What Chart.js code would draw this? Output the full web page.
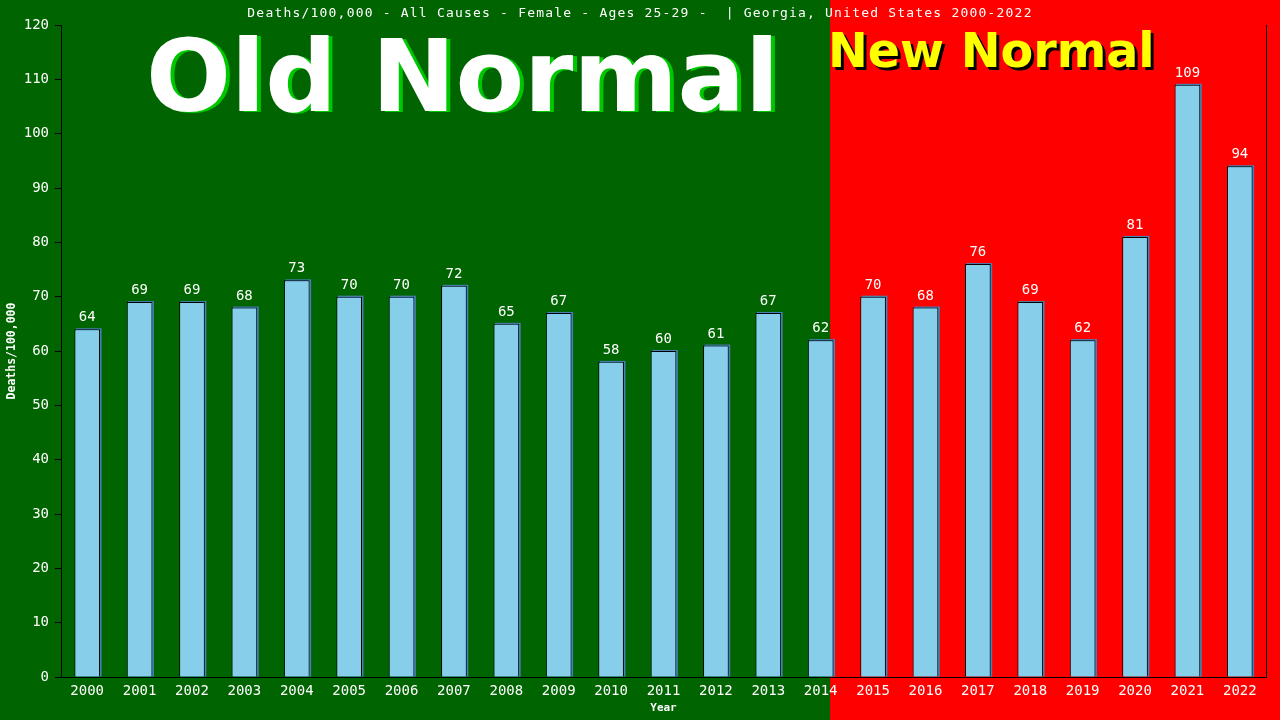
<!DOCTYPE html>
<html>
<head>
<meta charset="utf-8">
<script src="https://cdn.jsdelivr.net/npm/chart.js@4.4.0/dist/chart.umd.min.js"></script>
<style>
  html, body { margin: 0; padding: 0; background: #006400; }
  #wrap { width: 1280px; height: 720px; }
</style>
</head>
<body>
<div id="wrap"><canvas id="c" width="1280" height="720"></canvas></div>
<script>
const years = ['2000','2001','2002','2003','2004','2005','2006','2007','2008','2009','2010','2011','2012','2013','2014','2015','2016','2017','2018','2019','2020','2021','2022'];
const deaths = [64,69,69,68,73,70,70,72,65,67,58,60,61,67,62,70,68,76,69,62,81,109,94];
const titleText = 'Deaths/100,000 - All Causes - Female - Ages 25-29 -  | Georgia, United States 2000-2022';
const yAxisTitle = 'Deaths/100,000';
const xAxisTitle = 'Year';
const oldLabel = 'Old Normal';
const newLabel = 'New Normal';
const splitIndex = 14; // last "Old Normal" year index

const MONO = '"DejaVu Sans Mono", monospace';
const SANS = '"DejaVu Sans", Verdana, sans-serif';

const decorPlugin = {
  id: 'decor',
  beforeDraw(chart) {
    const ctx = chart.ctx;
    const xs = chart.scales.x;
    const step = xs.getPixelForValue(1) - xs.getPixelForValue(0);
    const split = xs.getPixelForValue(splitIndex) + step * 0.18;
    ctx.save();
    ctx.fillStyle = '#006400';
    ctx.fillRect(0, 0, split, chart.height);
    ctx.fillStyle = '#FF0000';
    ctx.fillRect(split, 0, chart.width - split, chart.height);

    // title
    ctx.fillStyle = '#FFFFFF';
    ctx.font = '13px ' + MONO;
    ctx.letterSpacing = '1.2px';
    ctx.textAlign = 'center';
    ctx.textBaseline = 'middle';
    ctx.fillText(titleText, 640, 13.5);
    ctx.letterSpacing = '0px';

    // Old Normal
    ctx.textAlign = 'left';
    ctx.textBaseline = 'alphabetic';
    ctx.font = 'bold 100px ' + SANS;
    ctx.fillStyle = '#00C800';
    ctx.fillText(oldLabel, 150, 112);
    ctx.fillStyle = '#FFFFFF';
    ctx.fillText(oldLabel, 146, 111);

    // New Normal
    ctx.font = 'bold 47.6px ' + SANS;
    ctx.fillStyle = '#000000';
    ctx.fillText(newLabel, 831, 70);
    ctx.fillStyle = '#FFFF00';
    ctx.fillText(newLabel, 828, 67);
    ctx.restore();
  },
  beforeDatasetsDraw(chart) {
    const ctx = chart.ctx;
    const meta = chart.getDatasetMeta(0);
    ctx.save();
    ctx.fillStyle = '#4682B4';
    meta.data.forEach(bar => {
      const w = bar.width;
      ctx.fillRect(bar.x - w / 2 + 1.5, bar.y - 1, w, bar.base - bar.y + 1);
    });
    ctx.restore();
  },
  afterDatasetsDraw(chart) {
    const ctx = chart.ctx;
    const meta = chart.getDatasetMeta(0);
    ctx.save();
    ctx.fillStyle = '#FFFFFF';
    ctx.font = '14px ' + MONO;
    ctx.textAlign = 'center';
    ctx.textBaseline = 'alphabetic';
    meta.data.forEach((bar, i) => {
      ctx.fillText(String(deaths[i]), bar.x, bar.y - 8);
    });
    // right frame line
    const a = chart.chartArea;
    ctx.strokeStyle = '#000000';
    ctx.lineWidth = 1;
    ctx.beginPath();
    ctx.moveTo(Math.round(a.right) + 0.5, a.top);
    ctx.lineTo(Math.round(a.right) + 0.5, a.bottom);
    ctx.stroke();
    ctx.restore();
  }
};

new Chart(document.getElementById('c'), {
  type: 'bar',
  data: {
    labels: years,
    datasets: [{
      data: deaths,
      backgroundColor: '#87CEEB',
      borderColor: '#000000',
      borderWidth: 1,
      borderSkipped: 'start',
      barPercentage: 0.49,
      categoryPercentage: 1.0
    }]
  },
  options: {
    responsive: false,
    animation: false,
    devicePixelRatio: 1,
    layout: { padding: { left: 0, right: 14, top: 25, bottom: 0 } },
    plugins: {
      legend: { display: false },
      title: { display: false },
      tooltip: { enabled: false }
    },
    scales: {
      x: {
        grid: { display: false, drawTicks: false },
        border: { display: true, color: '#000000', width: 1 },
        ticks: {
          color: '#FFFFFF',
          font: { family: MONO, size: 14 },
          padding: 6,
          maxRotation: 0,
          autoSkip: false
        },
        title: {
          display: true,
          text: xAxisTitle,
          color: '#FFFFFF',
          font: { family: MONO, size: 11, weight: 'bold' },
          padding: { top: 5, bottom: 5 }
        },
        afterFit(s) { s.height = 43; }
      },
      y: {
        min: 0,
        max: 120,
        ticks: {
          stepSize: 10,
          color: '#FFFFFF',
          font: { family: MONO, size: 14 },
          padding: 6
        },
        grid: {
          display: true,
          drawOnChartArea: false,
          drawTicks: true,
          tickLength: 6,
          tickColor: '#000000'
        },
        border: { display: true, color: '#000000', width: 1 },
        title: {
          display: true,
          text: yAxisTitle,
          color: '#FFFFFF',
          font: { family: MONO, size: 11.5, weight: 'bold' },
          padding: { top: 5, bottom: 5 }
        },
        afterFit(s) { s.width = 61; }
      }
    }
  },
  plugins: [decorPlugin]
});
</script>
</body>
</html>
